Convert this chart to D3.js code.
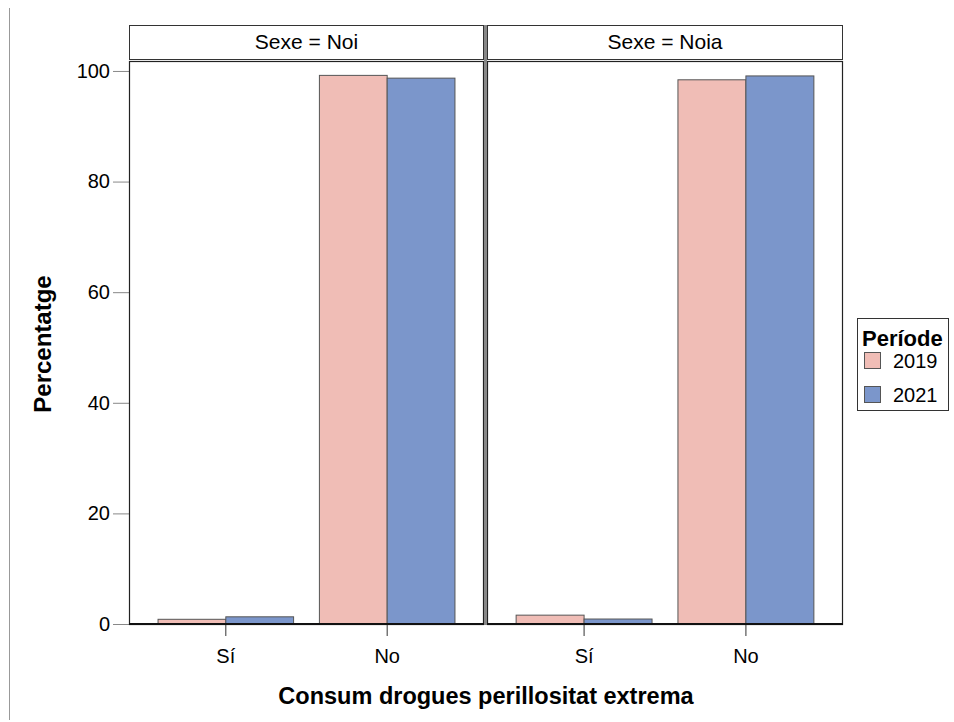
<!DOCTYPE html>
<html><head><meta charset="utf-8">
<script src="https://cdn.jsdelivr.net/npm/d3@7"></script>
<style>body{margin:0;background:#fff}svg{font-family:"Liberation Sans",Arial,sans-serif}</style>
</head><body><svg id="c" width="954" height="722"></svg>
<script>
const panels = ["Sexe = Noi", "Sexe = Noia"];
const categories = ["Sí", "No"];
const periods = ["2019", "2021"];
const values2019 = [[0.85, 99.2], [1.6, 98.4]];
const values2021 = [[1.3, 98.7], [0.9, 99.1]];
const yTicks = [0, 20, 40, 60, 80, 100];
const colors = ["#F0BDB6", "#7B96CB"];

(function(){
const svg = d3.select("#c");
svg.append("line").attr("x1",9.5).attr("x2",9.5).attr("y1",8).attr("y2",720).attr("stroke","#999").attr("stroke-width",1);

const pTop = 61, pBottom = 624;
const y = d3.scaleLinear().domain([0, 101.8]).range([pBottom, pTop]);
const panelX = [[129, 484], [487, 843]];

// y axis
const yAxis = svg.append("g").attr("transform","translate(129,0)").call(d3.axisLeft(y).tickValues(yTicks).tickSize(16).tickPadding(3));
yAxis.select(".domain").remove();
yAxis.selectAll("line").attr("stroke","#888");
yAxis.selectAll("text").attr("font-size",20).attr("fill","#000").attr("font-family","Liberation Sans, Arial");

panels.forEach((p, i) => {
  const [x0, x1] = panelX[i];
  const x = d3.scaleBand().domain(categories).range([x0, x1]).paddingInner(0.16).paddingOuter(0.18);
  const xs = d3.scaleBand().domain(periods).range([0, x.bandwidth()]);
  // strip
  svg.append("rect").attr("x",x0+0.5).attr("y",25.5).attr("width",x1-x0-1).attr("height",34).attr("fill","#fff").attr("stroke","#333").attr("stroke-width",1);
  svg.append("text").attr("x",(x0+x1)/2).attr("y",49).attr("text-anchor","middle").attr("font-size",21).text(p);
  // bars
  const g = svg.append("g");
  categories.forEach((c, ci) => {
    [values2019, values2021].forEach((vals, si) => {
      const v = vals[i][ci];
      g.append("rect").attr("x", x(c)+xs(periods[si])).attr("y", y(v)).attr("width", xs.bandwidth()).attr("height", y(0)-y(v))
        .attr("fill", colors[si]).attr("stroke","#555").attr("stroke-width",1);
    });
  });
  // panel border
  svg.append("rect").attr("x",x0+0.5).attr("y",pTop+0.5).attr("width",x1-x0-1).attr("height",pBottom-pTop).attr("fill","none").attr("stroke","#222").attr("stroke-width",1.2);
  // x axis
  const xa = svg.append("g").attr("transform",`translate(0,${pBottom})`).call(d3.axisBottom(x).tickSize(12).tickPadding(13));
  xa.select(".domain").remove();
  xa.selectAll("line").attr("stroke","#333");
  xa.selectAll("text").attr("font-size",20).attr("fill","#000").attr("font-family","Liberation Sans, Arial");
  svg.append("line").attr("x1",x0).attr("x2",x1).attr("y1",pBottom).attr("y2",pBottom).attr("stroke","#111").attr("stroke-width",2);
});
// divider
svg.append("rect").attr("x",484).attr("y",25).attr("width",3).attr("height",600).attr("fill","#888");

svg.append("text").attr("x",486).attr("y",704).attr("text-anchor","middle").attr("font-size",23.5).attr("font-weight","bold").text("Consum drogues perillositat extrema");
svg.append("text").attr("transform","translate(51,344) rotate(-90)").attr("text-anchor","middle").attr("font-size",24).attr("font-weight","bold").text("Percentatge");

// legend
const lg = svg.append("g");
lg.append("rect").attr("x",857.5).attr("y",318.5).attr("width",91).attr("height",92).attr("fill","#fff").attr("stroke","#333");
lg.append("text").attr("x",862).attr("y",346).attr("font-size",22).attr("font-weight","bold").text("Període");
periods.forEach((p, i) => {
  lg.append("rect").attr("x",864.5).attr("y",352.5+i*34).attr("width",16).attr("height",16).attr("fill",colors[i]).attr("stroke","#555");
  lg.append("text").attr("x",893).attr("y",368+i*34).attr("font-size",20).text(p);
});
})();
</script></body></html>
